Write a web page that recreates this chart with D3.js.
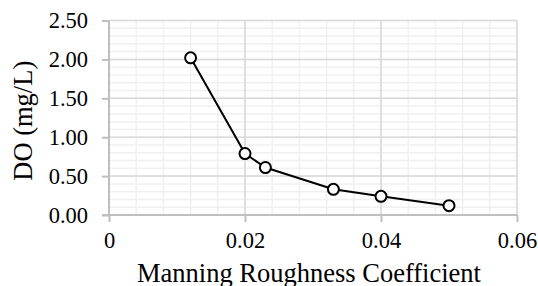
<!DOCTYPE html>
<html>
<head>
<meta charset="utf-8">
<script src="https://d3js.org/d3.v7.min.js"></script>
<style>
  body { margin: 0; background: #fff; }
  text { font-family: "Liberation Serif", "Times New Roman", serif; fill: #000; }
</style>
</head>
<body>
<div id="chart"></div>
<script>
// data
var manning = [0.012, 0.02, 0.023, 0.033, 0.04, 0.05];
var doValues = [2.02, 0.79, 0.61, 0.33, 0.24, 0.12];
var xTicks = [0, 0.02, 0.04, 0.06];
var yTicks = [0, 0.5, 1.0, 1.5, 2.0, 2.5];

var W = 538, H = 286;
var margin = {top: 20.5, right: 21, bottom: 71, left: 109};
var width = W - margin.left - margin.right,
    height = H - margin.top - margin.bottom;

var svg = d3.select("#chart").append("svg")
    .attr("width", W).attr("height", H)
  .append("g")
    .attr("transform", "translate(" + margin.left + "," + margin.top + ")");

var x = d3.scaleLinear().domain([0, 0.06]).range([0, width]);
var y = d3.scaleLinear().domain([0, 2.5]).range([height, 0]);

// minor grid
var xMinor = d3.range(0, 0.0601, 0.004), yMinor = d3.range(0, 2.501, 0.1);
svg.append("g").selectAll("line").data(xMinor).enter().append("line")
  .attr("x1", d => x(d)).attr("x2", d => x(d)).attr("y1", 0).attr("y2", height)
  .attr("stroke", "#f0f0f0").attr("stroke-width", 1.5);
svg.append("g").selectAll("line").data(yMinor).enter().append("line")
  .attr("x1", 0).attr("x2", width).attr("y1", d => y(d)).attr("y2", d => y(d))
  .attr("stroke", "#f0f0f0").attr("stroke-width", 1.5);

// major grid
svg.append("g").selectAll("line").data(xTicks.slice(1)).enter().append("line")
  .attr("x1", d => x(d)).attr("x2", d => x(d)).attr("y1", 0).attr("y2", height)
  .attr("stroke", "#d9d9d9").attr("stroke-width", 1.5);
svg.append("g").selectAll("line").data(yTicks.slice(1)).enter().append("line")
  .attr("x1", 0).attr("x2", width).attr("y1", d => y(d)).attr("y2", d => y(d))
  .attr("stroke", "#d9d9d9").attr("stroke-width", 1.5);

// axes
svg.append("g")
  .attr("transform", "translate(0," + height + ")")
  .call(d3.axisBottom(x).tickValues(xTicks).tickSize(7).tickPadding(10)
    .tickFormat(d => d === 0 ? "0" : d3.format(".2f")(d)));
svg.append("g")
  .call(d3.axisLeft(y).tickValues(yTicks).tickSize(7).tickPadding(14)
    .tickFormat(d3.format(".2f")));
svg.selectAll(".domain").remove();
svg.selectAll(".tick line").attr("stroke", "#bfbfbf").attr("stroke-width", 2);
svg.selectAll(".tick text").style("font-family", "Liberation Serif").style("font-size", "22.5px");

svg.append("line").attr("x1", 0).attr("x2", 0).attr("y1", 0).attr("y2", height)
  .attr("stroke", "#bfbfbf").attr("stroke-width", 2);
svg.append("line").attr("x1", -7).attr("x2", width).attr("y1", height).attr("y2", height)
  .attr("stroke", "#bfbfbf").attr("stroke-width", 2);

// series
var pts = manning.map((m, i) => [m, doValues[i]]);
svg.append("path").datum(pts)
  .attr("fill", "none").attr("stroke", "#000").attr("stroke-width", 2)
  .attr("d", d3.line().x(d => x(d[0])).y(d => y(d[1])));
svg.append("g").selectAll("circle").data(pts).enter().append("circle")
  .attr("cx", d => x(d[0])).attr("cy", d => y(d[1])).attr("r", 5.5)
  .attr("fill", "#fff").attr("stroke", "#000").attr("stroke-width", 2);

// axis titles
svg.append("text")
  .attr("x", width / 2 - 4).attr("y", height + 67)
  .attr("text-anchor", "middle").style("font-size", "26.5px")
  .text("Manning Roughness Coefficient");
svg.append("text")
  .attr("transform", "translate(" + (-margin.left + 32) + "," + (height / 2 + 3) + ") rotate(-90)")
  .attr("text-anchor", "middle").style("font-size", "26.5px")
  .text("DO (mg/L)");
</script>
</body>
</html>
